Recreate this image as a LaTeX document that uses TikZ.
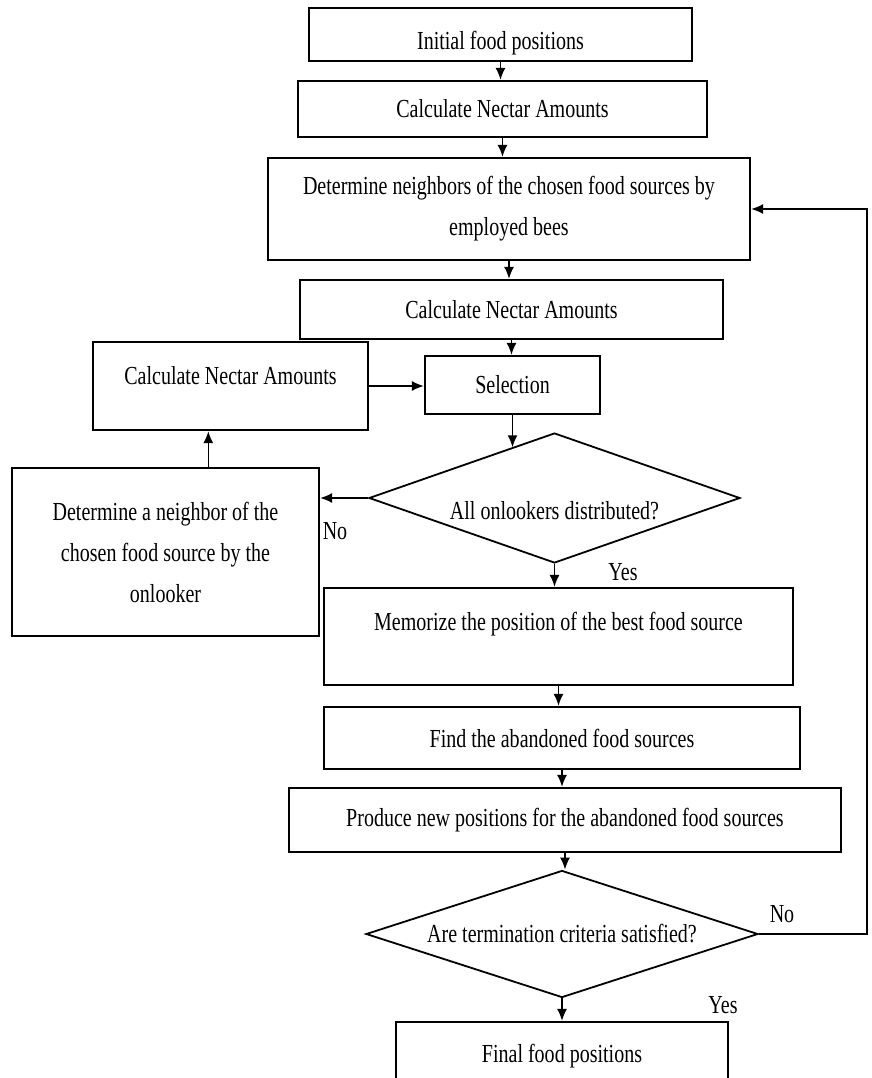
\documentclass[tikz,border=0pt]{standalone}
\usepackage{fontspec}
\setmainfont{Liberation Serif}[FakeStretch=0.77]
\usetikzlibrary{arrows.meta,positioning,shapes.geometric,calc}
\tikzstyle{boxstyle}=[draw,rectangle,line width=2.2pt,inner sep=4pt,align=center]
\tikzstyle{decstyle}=[draw,diamond,line width=1.8pt,aspect=2.8,inner sep=1pt,align=center]

\begin{document}
\begin{tikzpicture}[x=1pt,y=-1pt,font=\fontsize{26}{41}\selectfont,>={Latex[length=12pt,width=10pt]}]
	\tikzstyle{flow}=[->,line width=1.6pt]
	\useasboundingbox (0,0) rectangle (871,1078);

	% main column
	\node[boxstyle,minimum width=383pt,minimum height=53pt,text height=36pt] (init) at (500.5,34.5) {Initial food positions};
	\node[boxstyle,minimum width=409pt,minimum height=56pt] (nect1) at (502.5,109) {Calculate Nectar Amounts};
	\node[boxstyle,minimum width=482pt,minimum height=102pt] (empl) at (509,209) {Determine neighbors of the chosen food sources by\\employed bees};
	\node[boxstyle,minimum width=423pt,minimum height=59pt] (nect2) at (511.5,309.5) {Calculate Nectar Amounts};
	\node[boxstyle,minimum width=175pt,minimum height=58pt] (sel) at (512.5,385) {Selection};
	\node[decstyle,minimum width=371pt,minimum height=130pt,text height=44pt] (dist) at (554.5,498) {All onlookers distributed?};
	\node[boxstyle,minimum width=469pt,minimum height=97pt,text depth=30pt] (memo) at (558.5,636.5) {Memorize the position of the best food source};
	\node[boxstyle,minimum width=476pt,minimum height=62pt] (aban) at (562,738) {Find the abandoned food sources};
	\node[boxstyle,minimum width=552pt,minimum height=64pt] (prod) at (565,820) {Produce new positions for the abandoned food sources};
	\node[decstyle,minimum width=392pt,minimum height=127pt] (term) at (562,934) {Are termination criteria satisfied?};
	\node[boxstyle,minimum width=332pt,minimum height=68pt] (final) at (562,1056) {Final food positions};

	% onlooker loop on the left
	\node[boxstyle,minimum width=275pt,minimum height=88pt,text depth=22pt] (nect3) at (230.5,386) {Calculate Nectar Amounts};
	\node[boxstyle,minimum width=307pt,minimum height=168pt] (nbr) at (165.5,552) {Determine a neighbor of the\\chosen food source by the\\onlooker};

	\node (no1) at (335,531) {No};
	\node (yes1) at (623,572) {Yes};
	\node (no2) at (782,914) {No};
	\node (yes2) at (723,1005) {Yes};

	\coordinate (hit) at ($(dist.north)!0.23!(dist.west)$);
	\coordinate (up) at ($(nect3.south west)!0.42!(nect3.south east)$);
	\coordinate (back) at ($(term.east)+(108,0)$);

	\draw[flow] (init.south) -- (init.south |- nect1.north);
	\draw[flow] (nect1.south) -- (nect1.south |- empl.north);
	\draw[flow] (empl.south) -- (empl.south |- nect2.north);
	\draw[flow] (nect2.south) -- (nect2.south |- sel.north);
	\draw[flow] (sel.south) -- (sel.south |- hit);
	\draw[flow] (dist.west) -- (dist.west -| nbr.east);
	\draw[flow] (nbr.north -| up) -- (up);
	\draw[flow] (nect3.east) -- (nect3.east -| sel.west);
	\draw[flow] (dist.south) -- (dist.south |- memo.north);
	\draw[flow] (memo.south) -- (memo.south |- aban.north);
	\draw[flow] (aban.south) -- (aban.south |- prod.north);
	\draw[flow] (prod.south) -- (prod.south |- term.north);
	\draw[flow] (term.south) -- (term.south |- final.north);
	\draw[flow] (term.east) -- (back) |- (empl.east);

\end{tikzpicture}
\end{document}
